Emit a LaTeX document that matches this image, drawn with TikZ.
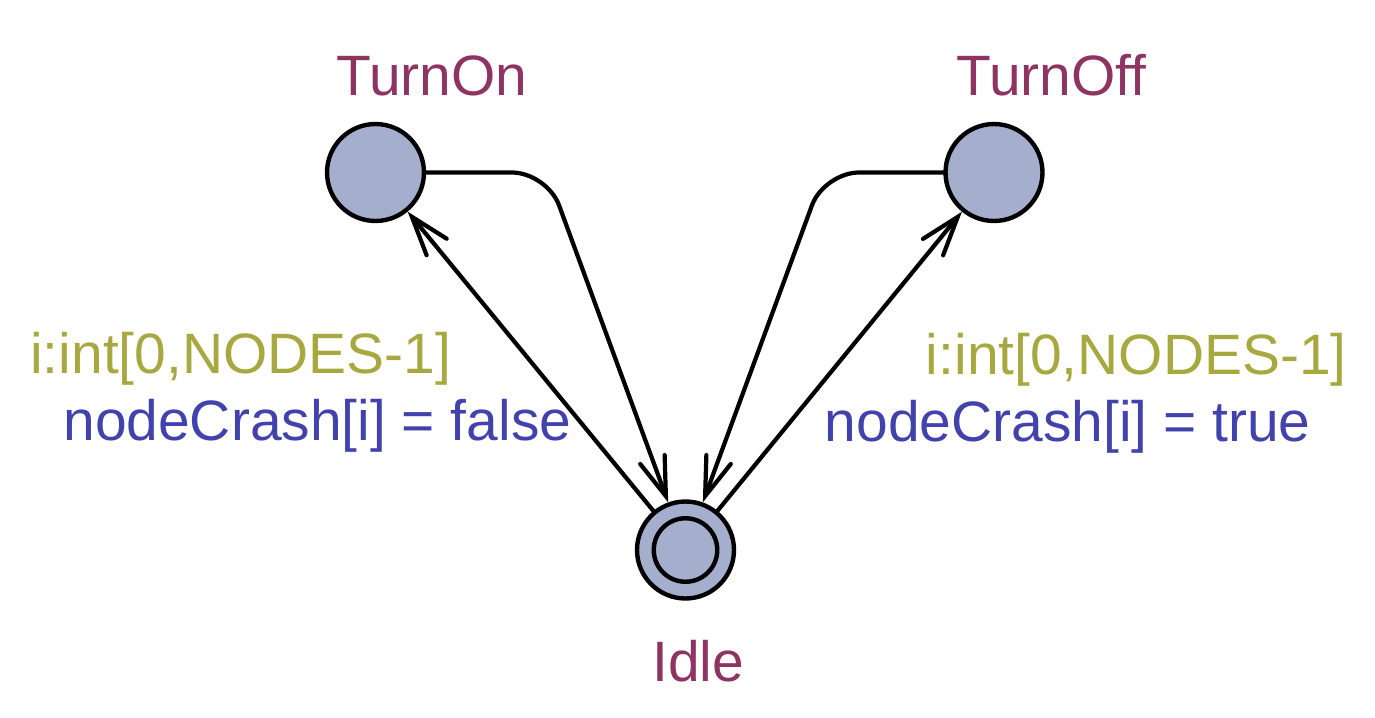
\documentclass[tikz,border=0pt]{standalone}
\usepackage{fontspec}
\setmainfont{Liberation Sans}
\usetikzlibrary{arrows.meta}
\definecolor{locname}{RGB}{142,52,98}
\definecolor{selcol}{RGB}{168,168,64}
\definecolor{asgcol}{RGB}{66,66,172}
\definecolor{locfill}{RGB}{165,174,204}
\begin{document}
\begin{tikzpicture}[x=0.02cm,y=-0.02cm,
  loc/.style={circle,draw,fill=locfill,line width=2.5pt,minimum size=1.94cm,inner sep=0pt},
  edge/.style={line width=2.4pt,line cap=round,-{Straight Barb[length=0.78cm,width=0.52cm,line cap=round]}},
  lbl/.style={font=\fontsize{32.4}{38}\selectfont,inner sep=0pt}]
\useasboundingbox (0,0) rectangle (1375,717);
\node[loc] (TurnOn) at (375.5,172.5) {};
\node[loc] (TurnOff) at (994,172.5) {};
\node[loc] (Idle) at (685.5,550) {};
\node[circle,draw,line width=2.5pt,minimum size=1.27cm,inner sep=0pt] (IdleIn) at (Idle.center) {};
\node[lbl,text=locname,anchor=base west] (lTurnOn) at (336,95) {TurnOn};
\node[lbl,text=locname,anchor=base west] (lTurnOff) at (956,95) {TurnOff};
\node[lbl,text=locname,anchor=base west] (lIdle) at (652,681) {Idle};
\node[lbl,text=selcol,anchor=base west] (s1) at (30,373) {i:int[0,NODES-1]};
\node[lbl,text=asgcol,anchor=base west] (a1) at (63,440) {nodeCrash[i] = false};
\node[lbl,text=selcol,anchor=base east] (s2) at (1347,374) {i:int[0,NODES-1]};
\node[lbl,text=asgcol,anchor=base east] (a2) at (1311,441) {nodeCrash[i] = true};
\coordinate (c1) at (547,172.5);
\coordinate (c2) at (824,172.5);
\draw[edge] (TurnOn.east) [rounded corners=0.7cm] -- (c1) -- (Idle.110);
\draw[edge] (TurnOff.west) [rounded corners=0.7cm] -- (c2) -- (Idle.70);
\draw[edge] (Idle) -- (TurnOn);
\draw[edge] (Idle) -- (TurnOff);
\end{tikzpicture}
\end{document}
